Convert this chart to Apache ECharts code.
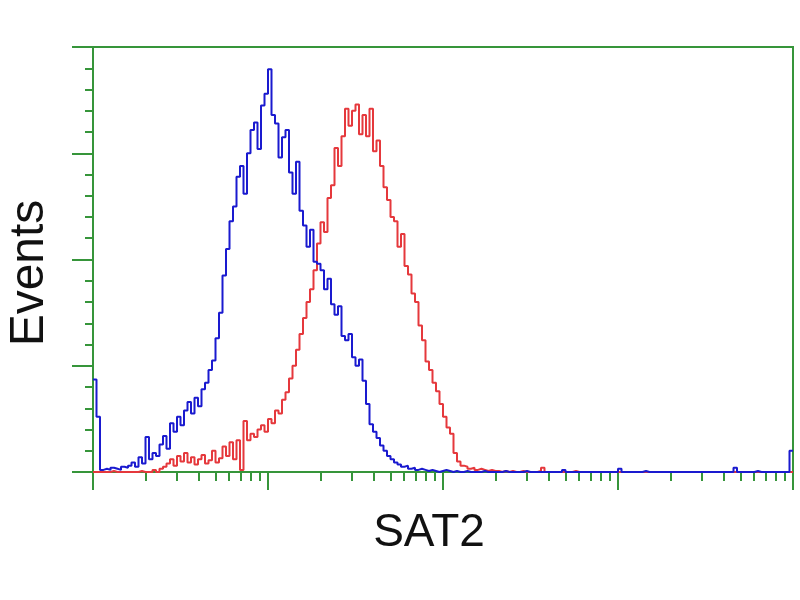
<!DOCTYPE html>
<html>
<head>
<meta charset="utf-8">
<script src="https://cdn.jsdelivr.net/npm/echarts@6/dist/echarts.min.js"></script>
<style>
    html, body { margin: 0; padding: 0; background: #fff; }
    #histChart { width: 800px; height: 600px; }
</style>
</head>
<body>
<div id="histChart"></div>
<script>
    // 200 bins across 4 log decades
    const binWidth = 0.02;
    const decades = [0, 1, 2, 3, 4];

    const blueCounts = [
        87,52,2,3,2,4,3,2,5,4,6,9,5,14,8,33,12,18,15,26,
        34,22,46,38,52,44,58,66,55,70,62,78,84,96,105,126,150,185,210,236,
        250,278,288,262,300,322,329,304,345,356,379,336,328,296,315,322,282,262,292,246,
        232,212,228,198,196,190,172,182,158,148,156,128,124,130,108,100,106,86,64,45,
        38,32,25,20,15,12,9,7,5,6,3,4,2,3,2,1,2,1,0,1,
        2,1,0,1,0,0,1,0,0,0,0,1,0,0,0,0,0,1,0,0,
        0,0,0,1,0,0,0,0,0,0,0,0,0,0,2,0,0,0,0,0,
        0,0,0,0,0,0,0,0,0,0,3,0,0,0,0,0,0,1,0,0,
        0,0,0,0,0,0,0,0,0,0,0,0,0,0,0,0,0,0,0,0,
        0,0,0,4,0,0,0,0,0,1,0,0,0,0,0,0,0,0,0,20
    ];

    const redCounts = [
        0,0,0,0,0,1,0,0,0,0,0,0,0,1,0,0,0,2,0,3,
        5,8,12,6,15,10,18,9,14,7,12,16,8,11,20,9,13,24,15,28,
        12,30,2,48,30,36,33,40,44,38,50,46,58,55,68,75,88,100,115,130,
        145,160,172,190,215,235,226,258,270,305,288,316,342,326,340,346,318,336,316,342,
        302,312,288,268,256,240,236,212,224,194,186,168,160,138,124,104,96,84,76,64,
        52,42,36,18,10,6,5,3,4,2,3,2,1,2,1,1,0,1,0,1,
        0,0,1,0,0,0,0,1,4,0,0,0,0,0,0,0,0,1,0,0,
        0,0,0,0,0,0,0,0,0,0,0,0,0,0,0,0,0,0,0,0,
        0,0,0,0,0,0,0,0,0,0,0,0,0,0,0,0,0,0,0,0,
        0,0,0,0,0,0,0,0,0,0,0,0,0,0,0,0,0,0,0,0
    ];

    const green = '#36953a';

    function toSteps(counts) {
        const pts = counts.map((v, i) => [i * binWidth, v]);
        pts.push([counts.length * binWidth, counts[counts.length - 1]]);
        return pts;
    }

    // minor log ticks 2..9 inside each decade
    const minorTicks = [];
    for (let d = 0; d < 4; d++) {
        for (let k = 2; k <= 9; k++) minorTicks.push(d + Math.log10(k));
    }

    const chart = echarts.init(document.getElementById('histChart'));
    const option = {
        animation: false,
        grid: {left: 93, right: 7, top: 47, bottom: 128,
            show: true, borderColor: green, borderWidth: 2},
        xAxis: [{
            type: 'value', min: 0, max: 4, position: 'bottom',
            axisLine: {show: true, lineStyle: {color: green, width: 2}},
            axisTick: {show: true, customValues: decades, length: 18,
                lineStyle: {color: green, width: 2}},
            axisLabel: {show: false},
            splitLine: {show: false}
        }, {
            type: 'value', min: 0, max: 4, position: 'bottom',
            axisLine: {show: false},
            axisTick: {show: true, customValues: minorTicks, length: 9,
                lineStyle: {color: green, width: 2}},
            axisLabel: {show: false},
            splitLine: {show: false}
        }],
        yAxis: {
            type: 'value', min: 0, max: 400, interval: 100,
            axisLine: {show: true, lineStyle: {color: green, width: 2}},
            axisTick: {show: true, length: 21, lineStyle: {color: green, width: 2}},
            minorTick: {show: true, splitNumber: 5, length: 8,
                lineStyle: {color: green, width: 2}},
            axisLabel: {show: false},
            splitLine: {show: false}
        },
        graphic: [{
            type: 'text', x: 30, y: 273, rotation: Math.PI / 2,
            style: {text: 'Events', font: '48px "Liberation Sans", Arial, sans-serif',
                fill: '#111', align: 'center', verticalAlign: 'middle'}
        }, {
            type: 'text', x: 429, y: 533,
            style: {text: 'SAT2', font: '46px "Liberation Sans", Arial, sans-serif',
                fill: '#111', align: 'center', verticalAlign: 'middle'}
        }],
        series: [{
            type: 'line', step: 'end', data: toSteps(redCounts),
            showSymbol: false, xAxisIndex: 0,
            lineStyle: {color: '#e5383c', width: 2}
        }, {
            type: 'line', step: 'end', data: toSteps(blueCounts),
            showSymbol: false, xAxisIndex: 0,
            lineStyle: {color: '#1a1acf', width: 2}
        }]
    };
    chart.setOption(option, true);
</script>
</body>
</html>
